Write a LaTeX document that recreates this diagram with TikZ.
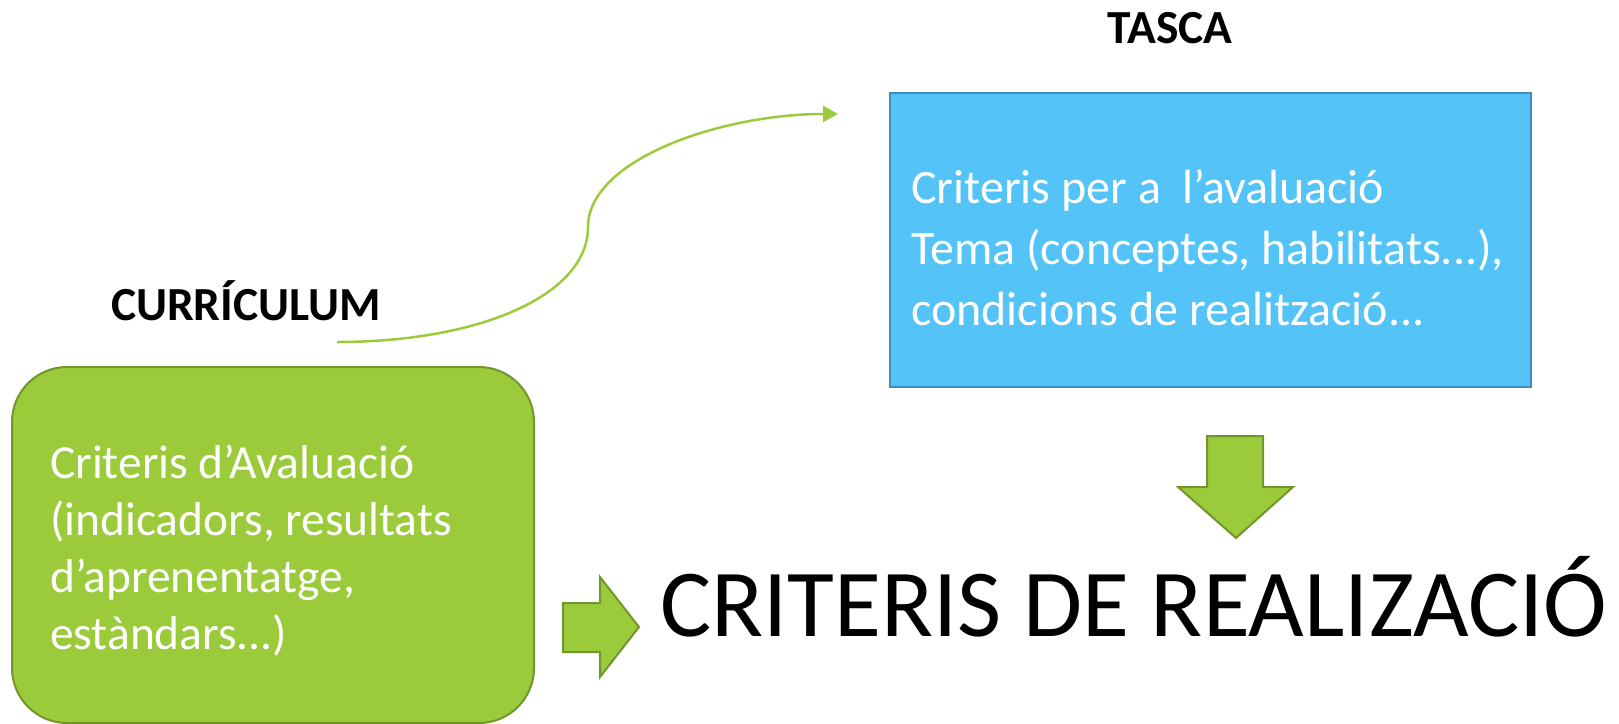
\documentclass[tikz,border=0pt]{standalone}
\usepackage{fontspec}
\setmainfont{Carlito}
\usetikzlibrary{arrows.meta}

\definecolor{leafgreen}{HTML}{9BCB3B}
\definecolor{leafedge}{HTML}{71962B}
\definecolor{skyblue}{HTML}{53C3F8}
\definecolor{skyedge}{HTML}{3D8DC0}

\def\boxfont{\fontsize{47.5}{57}\selectfont}
\def\headfont{\fontsize{47.5}{56}\selectfont\bfseries}

\begin{document}
\begin{tikzpicture}[x=1pt,y=-1pt,
    greenbox/.style={draw=leafedge,line width=2pt,fill=leafgreen,rounded corners=55pt},
    bluebox/.style={draw=skyedge,line width=2pt,fill=skyblue},
    boxtext/.style={text=white,font=\boxfont,align=left,inner sep=0pt,anchor=north west},
    headlabel/.style={font=\headfont,inner sep=0pt,anchor=base},
    blockarrow/.style={draw=leafedge,line width=2pt,fill=leafgreen,line join=miter},
    flow/.style={draw=leafgreen,line width=2.5pt,-{Triangle[length=15pt,width=16pt]}}]
        \useasboundingbox (0,0) rectangle (1619,723);
        % task box
        \node[bluebox,minimum width=641pt,minimum height=294pt] (tasca) at (1210.5,240) {};
        \node[boxtext,font=\fontsize{48}{61}\selectfont] (tascatext) at (911,169)
            {Criteris per a \ l’avaluació\\Tema (conceptes, habilitats...),\\condicions de realització...};
        \node[headlabel] (tascalabel) at (1170,43) {TASCA};
        % curriculum box
        \node[greenbox,minimum width=522pt,minimum height=356pt] (curriculum) at (273,545) {};
        \node[boxtext] (curtext) at (50,445)
            {Criteris d’Avaluació\\(indicadors, resultats\\d’aprenentatge,\\estàndars...)};
        \node[headlabel] (curlabel) at (246,320) {CURRÍCULUM};
        % result
        \node[font=\fontsize{96}{115}\selectfont,inner sep=0pt,anchor=base west] (result) at (660,636)
            {CRITERIS DE REALIZACIÓ};
        % block arrows
        \draw[blockarrow] (1207,436) -- (1263,436) -- (1263,487) -- (1293,487) -- (1236,538)
            -- (1178,487) -- (1207,487) -- cycle;
        \draw[blockarrow] (563,603) -- (600,603) -- (600,577) -- (639,627) -- (600,677)
            -- (600,652) -- (563,652) -- cycle;
        % curriculum feeds the task
        \coordinate (flowstart) at (337,342);
        \coordinate (flowend) at (838,114);
        \draw[flow] (flowstart) .. controls (480,342) and (588,295) .. (588,227)
            .. controls (588,160) and (720,114) .. (flowend);
\end{tikzpicture}
\end{document}
